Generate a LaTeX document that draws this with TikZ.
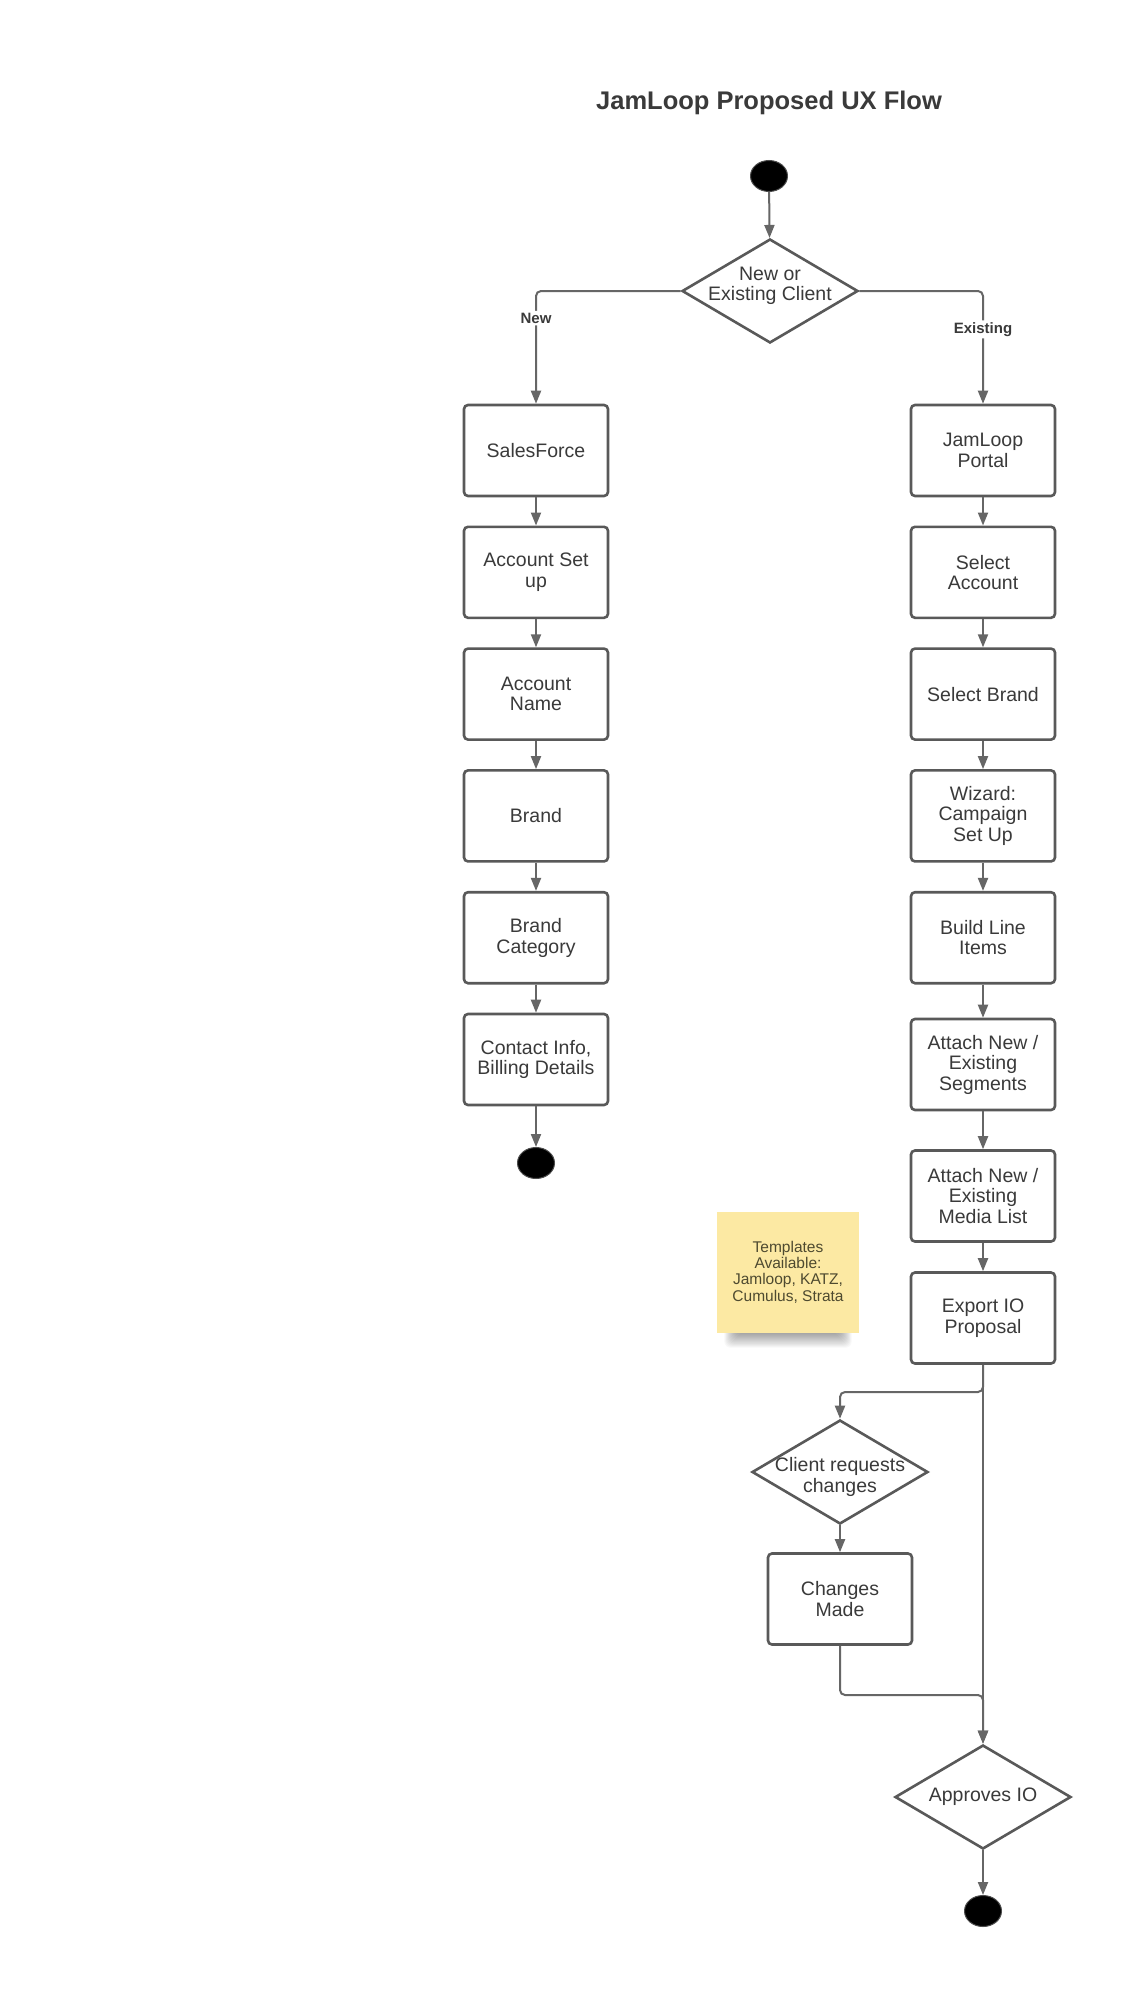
\documentclass[tikz,border=0pt]{standalone}
\usepackage{fontspec}
\setmainfont{Liberation Sans}
\usetikzlibrary{shapes.geometric,arrows.meta}
\definecolor{linec}{HTML}{666666}
\definecolor{borderc}{HTML}{595959}
\definecolor{textc}{HTML}{3A3A3A}
\definecolor{stickyc}{RGB}{252,233,163}
\definecolor{stickytext}{RGB}{78,74,48}
\begin{document}
\begin{tikzpicture}[x=1pt,y=-1pt,
  proc/.style={draw=borderc, line width=2.6pt, rounded corners=4pt, minimum width=144pt, minimum height=91pt, inner sep=0pt, align=center, text=textc, font=\fontsize{19.5}{20.5}\selectfont, fill=white},
  dia/.style={draw=borderc, line width=2.6pt, diamond, minimum width=176pt, minimum height=104pt, inner sep=0pt, fill=white},
  diatext/.style={align=center, text=textc, font=\fontsize{19.5}{20.5}\selectfont, inner sep=0pt},
  dot/.style={ellipse, fill=black, draw=black!70, line width=1pt, minimum width=37pt, minimum height=31pt, inner sep=0pt},
  arr/.style={draw=linec, line width=2pt, -{Triangle[length=13pt,width=10pt]}, rounded corners=5pt},
  lab/.style={fill=white, font=\bfseries\fontsize{15}{16}\selectfont, text=textc, inner sep=2pt},
  sticky/.style={fill=stickyc, minimum width=142pt, minimum height=121pt, inner sep=0pt, align=center, text=stickytext, font=\fontsize{15.5}{16.3}\selectfont}
]
\useasboundingbox[fill=white] (0,0) rectangle (1124,1999);

\node[anchor=base, text=textc, font=\bfseries\fontsize{25.5}{29}\selectfont] (title) at (769,110) {JamLoop Proposed UX Flow};

\node[dot] (s) at (769,176) {};
\node[dia] (d1) at (770,291) {};
\node[diatext] (d1t) at ([yshift=5pt]d1.center) {New or\\Existing Client};

% left column
\node[proc] (l1) at (536,450.5) {SalesForce};
\node[proc] (l2) at (536,572.3) {Account Set\\up};
\node[proc] (l3) at (536,694.1) {Account\\Name};
\node[proc] (l4) at (536,815.9) {Brand};
\node[proc] (l5) at (536,937.7) {Brand\\Category};
\node[proc] (l6) at (536,1059.5) {Contact Info,\\Billing Details};
\node[dot] (le) at (536,1163) {};

% right column
\node[proc] (r1) at (983,450.5) {JamLoop\\Portal};
\node[proc] (r2) at (983,572.3) {Select\\Account};
\node[proc] (r3) at (983,694.1) {Select Brand};
\node[proc] (r4) at (983,815.9) {Wizard:\\Campaign\\Set Up};
\node[proc] (r5) at (983,937.7) {Build Line\\Items};
\node[proc] (r6) at (983,1064.5) {Attach New /\\Existing\\Segments};
\node[proc] (r7) at (983,1196) {Attach New /\\Existing\\Media List};
\node[proc] (r8) at (983,1318) {Export IO\\Proposal};

% sticky note with soft shadow under its lower edge
\coordinate (shl) at (737,1320);
\coordinate (shr) at (839,1333);
\foreach \k in {1,...,14}{
  \fill[black, opacity=0.028, rounded corners=6pt]
    ([xshift=-0.9*\k pt]shl) rectangle ([xshift=0.9*\k pt, yshift=-1.05*\k pt]shr);
}
\node[sticky] (note) at (788,1272) {Templates\\Available:\\Jamloop, KATZ,\\Cumulus, Strata};

\node[dia] (d2) at (840,1472) {};
\node[diatext] (d2t) at ([yshift=-5pt]d2.center) {Client requests\\changes};
\node[proc] (cm) at (840,1599) {Changes\\Made};

\node[dia] (d3) at (983,1797) {};
\node[diatext] (d3t) at (d3.center) {Approves IO};
\node[dot] (re) at (983,1911) {};

\coordinate (b1) at (983,1392);
\coordinate (b2) at (983,1695);

% connectors
\draw[arr] (s) -- (d1);
\draw[arr] (d1.west) -| node[lab, pos=0.62] {New} (l1);
\draw[arr] (d1.east) -| node[lab, pos=0.67] {Existing} (r1);

\draw[arr] (l1) -- (l2);
\draw[arr] (l2) -- (l3);
\draw[arr] (l3) -- (l4);
\draw[arr] (l4) -- (l5);
\draw[arr] (l5) -- (l6);
\draw[arr] (l6) -- (le);

\draw[arr] (r1) -- (r2);
\draw[arr] (r2) -- (r3);
\draw[arr] (r3) -- (r4);
\draw[arr] (r4) -- (r5);
\draw[arr] (r5) -- (r6);
\draw[arr] (r6) -- (r7);
\draw[arr] (r7) -- (r8);

\draw[arr] (r8.south) -- (b1) -| (d2.north);
\draw[arr] (r8) -- (d3);
\draw[arr] (d2) -- (cm);
\draw[arr] (cm.south) |- (b2) -- (d3.north);
\draw[arr] (d3) -- (re);
\end{tikzpicture}
\end{document}
